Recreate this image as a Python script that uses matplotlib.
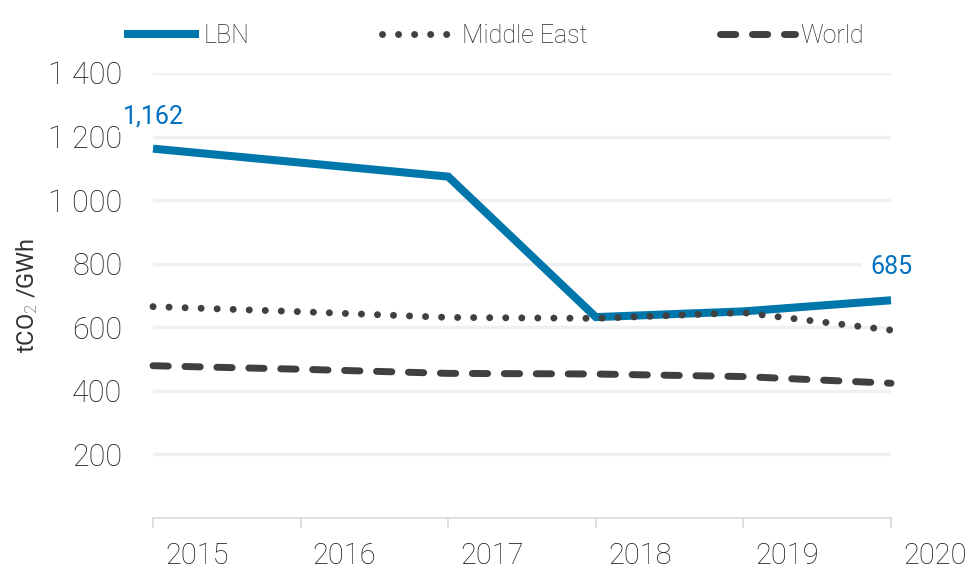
import matplotlib
matplotlib.use("Agg")
import matplotlib.pyplot as plt
import matplotlib.transforms as mtrans

years = [2015, 2016, 2017, 2018, 2019, 2020]
lbn = [1162, 1118, 1074, 632, 650, 685]
middle_east = [665, 649, 631, 628, 646, 591]
world = [479, 468, 455, 453, 445, 424]
y_ticks = [200, 400, 600, 800, 1000, 1200, 1400]
y_tick_labels = ["200", "400", "600", "800", "1 000", "1 200", "1 400"]

FONT = ["Roboto", "DejaVu Sans"]
plt.rcParams["font.family"] = FONT
plt.rcParams["font.weight"] = "light"
plt.rcParams["mathtext.fontset"] = "custom"
plt.rcParams["mathtext.rm"] = "Roboto:light"
plt.rcParams["mathtext.it"] = "Roboto:light"

fig = plt.figure(figsize=(9.69, 5.69), dpi=100)
ax = fig.add_axes([153/969, 1-518/569, (891-153)/969, (518-73)/569])

blue = "#0077AA"
dark = "#404040"
lab_blue = "#0070C0"

ax.plot(years, lbn, color=blue, lw=5.8, solid_capstyle="butt", solid_joinstyle="miter",
        label="LBN", zorder=4, clip_on=False)
ax.plot(years, middle_east, color=dark, lw=5.0, linestyle=(0, (0.01, 2.3)),
        dash_capstyle="round", label="Middle East", zorder=5, clip_on=False)
ax.plot(years, world, color=dark, lw=5.0, linestyle=(0, (2.2, 2.4)),
        dash_capstyle="round", label="World", zorder=3, clip_on=False)

ax.set_xlim(years[0], years[-1])
ax.set_ylim(0, 1400)
ax.set_yticks(y_ticks)
ax.set_yticklabels(y_tick_labels)
ax.set_xticks(years)
ax.set_xticklabels([str(y) for y in years])

for s in ["top", "right", "left"]:
    ax.spines[s].set_visible(False)
ax.spines["bottom"].set_color("#D9D9D9")
ax.spines["bottom"].set_linewidth(1.2)

ax.grid(axis="y", color="#F0F0F0", lw=2.5, zorder=0)
ax.set_axisbelow(True)

ax.tick_params(axis="y", length=0, pad=22, labelsize=22, labelcolor="#1a1a1a")
ax.tick_params(axis="x", length=7, width=1.2, color="#D9D9D9", pad=10,
               labelsize=21, labelcolor="#1a1a1a")
offset = mtrans.ScaledTranslation(44/100, 0, fig.dpi_scale_trans)
for lab in ax.get_xticklabels():
    lab.set_transform(lab.get_transform() + offset)

ax.set_ylabel("tCO$_2$ /GWh", fontsize=17, color="#333333")
ax.yaxis.set_label_coords((40-153)/738, 0.5)

ax.annotate(f"{lbn[0]:,}", (years[0], lbn[0]), xytext=(0, 23), textcoords="offset points",
            ha="center", va="center", fontsize=18, color=lab_blue, fontweight="normal",
            bbox=dict(boxstyle="square,pad=0.15", fc="white", ec="none"), zorder=6)
ax.annotate(f"{lbn[-1]:,}", (years[-1], lbn[-1]), xytext=(0, 24), textcoords="offset points",
            ha="center", va="center", fontsize=18, color=lab_blue, fontweight="normal",
            bbox=dict(boxstyle="square,pad=0.3", fc="white", ec="none"), zorder=6)

leg = fig.legend(loc="center", bbox_to_anchor=(494/969, 1-36/569), ncol=3, frameon=False,
                 fontsize=18, handlelength=3.0, handletextpad=0.2, columnspacing=5.3)
for t in leg.get_texts():
    t.set_color("#2a2a2a")

fig.savefig("out.png", dpi=100)
